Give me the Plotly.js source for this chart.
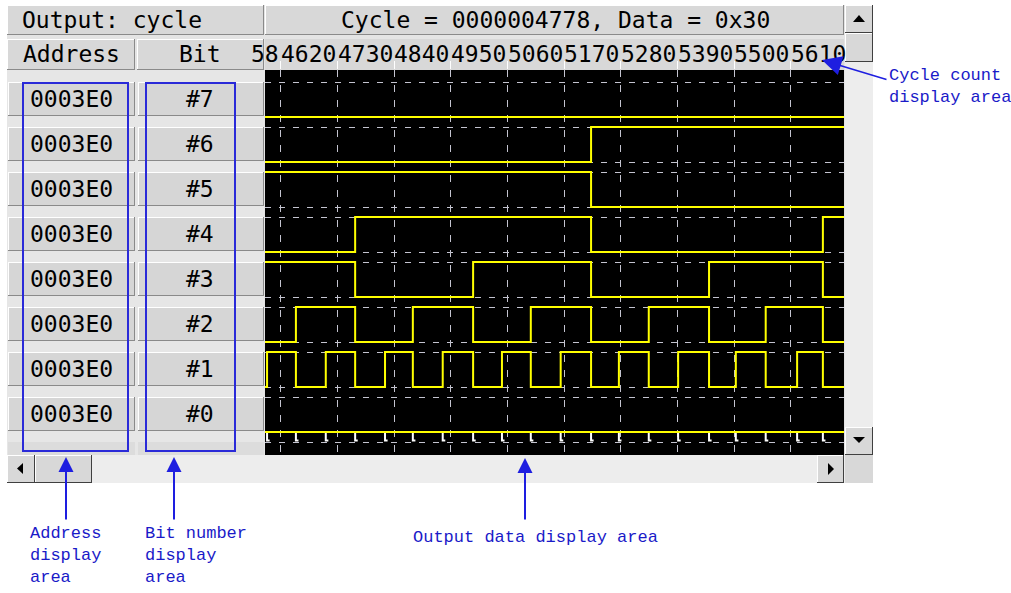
<!DOCTYPE html>
<html><head><meta charset="utf-8">
<script src="https://cdn.plot.ly/plotly-3.0.1.min.js"></script>
<style>html,body{margin:0;padding:0;background:#fff;}#chart{width:1011px;height:593px;}</style>
</head><body><div id="chart"></div>
<script>
// ---------------- data (cycle numbers) ----------------
const viewCycles = [4589, 5713];
const tickCycles = [4620, 4730, 4840, 4950, 5060, 5170, 5280, 5390, 5500, 5610];
const tickLabels = ['4620', '4730', '4840', '4950', '5060', '5170', '5280', '5390', '5500', '5610'];
const leadingLabel = '58';
const bitNames = ['#7', '#6', '#5', '#4', '#3', '#2', '#1', '#0'];
const bitNumbers = [7, 6, 5, 4, 3, 2, 1, 0];
const addresses = ['0003E0', '0003E0', '0003E0', '0003E0', '0003E0', '0003E0', '0003E0', '0003E0'];

const bit7Edges = [4589, 5713];
const bit7Levels = [0, 0];
const bit6Edges = [4589, 5222, 5713];
const bit6Levels = [0, 1, 1];
const bit5Edges = [4589, 5222, 5713];
const bit5Levels = [1, 0, 0];
const bit4Edges = [4589, 4764, 5222, 5672, 5713];
const bit4Levels = [0, 1, 0, 1, 1];
const bit3Edges = [4589, 4764, 4993, 5222, 5451, 5672, 5713];
const bit3Levels = [1, 0, 1, 0, 1, 0, 0];
const bit2Edges = [4589, 4649, 4764, 4876, 4993, 5105, 5222, 5334, 5451, 5561, 5672, 5713];
const bit2Levels = [0, 1, 0, 1, 0, 1, 0, 1, 0, 1, 0, 0];
const bit1Edges = [4589, 4593, 4649, 4707, 4764, 4822, 4876, 4934, 4993, 5049, 5105, 5163, 5222, 5276, 5334, 5391, 5451, 5503, 5561, 5622, 5672, 5713];
const bit1Levels = [0, 1, 0, 1, 0, 1, 0, 1, 0, 1, 0, 1, 0, 1, 0, 1, 0, 1, 0, 1, 0, 0];
const bit0Edges = [4589, 5713];
const bit0Levels = [0, 0];
const bit0Glitches = [4593, 4649, 4707, 4764, 4822, 4876, 4934, 4993, 5049, 5105, 5163, 5222, 5276, 5334, 5391, 5451, 5503, 5561, 5622, 5672];

const headerLeft = 'Output: cycle';
const headerRight = 'Cycle = 0000004778, Data = 0x30';
const colAddress = 'Address';
const colBit = 'Bit';

// ---------------- layout helpers ----------------
const W = 1011, H = 593;
const HIGH = 35 / 45;           // high level offset inside a row
const px = x => x / W, py = y => 1 - y / H;
const shapes = [];
function rect(x0, y0, x1, y1, fill, line, lw) {
  shapes.push({type: 'rect', xref: 'paper', yref: 'paper', x0: px(x0), x1: px(x1), y0: py(y1), y1: py(y0),
    fillcolor: fill || 'rgba(0,0,0,0)', line: {color: line || 'rgba(0,0,0,0)', width: lw || 0}, layer: 'below'});
}
function seg(x0, y0, x1, y1, color, w) {
  shapes.push({type: 'line', xref: 'paper', yref: 'paper', x0: px(x0), y0: py(y0), x1: px(x1), y1: py(y1),
    line: {color: color, width: w || 1}, layer: 'below'});
}
function bevel(x0, y0, x1, y1, fill, dark) {
  rect(x0, y0, x1, y1, fill);
  seg(x0, y0 + 0.5, x1, y0 + 0.5, '#ffffff', 1);
  seg(x0 + 0.5, y0, x0 + 0.5, y1, '#ffffff', 1);
  seg(x0, y1 - 0.5, x1, y1 - 0.5, dark || '#8a8a8a', 1);
  seg(x1 - 0.5, y0, x1 - 0.5, y1, dark || '#8a8a8a', 1);
}
function tri(pts, color) {
  const path = 'M' + pts.map(p => px(p[0]) + ',' + py(p[1])).join('L') + 'Z';
  shapes.push({type: 'path', xref: 'paper', yref: 'paper', path: path, fillcolor: color, line: {color: color, width: 0}, layer: 'below'});
}

// window chrome
rect(7, 5, 873, 483, '#e4e4e4');
bevel(7, 5, 264, 35, '#d8d8d8');
bevel(265, 5, 844, 35, '#d8d8d8');
bevel(7, 39, 135, 70, '#d8d8d8');
bevel(137, 39, 264, 70, '#d8d8d8');
rect(265, 39, 844, 70, '#d8d8d8');
rect(7, 70, 265, 455, '#e6e6e6');
rect(265, 70, 844, 455, '#000000');   // waveform display background
bitNames.forEach((b, i) => {
  bevel(8, 82 + 45 * i, 135, 116 + 45 * i, '#d6d6d6');
  bevel(138, 82 + 45 * i, 264, 116 + 45 * i, '#d6d6d6');
});
rect(8, 442, 135, 455, '#dcdcdc');
rect(138, 442, 264, 455, '#dcdcdc');
// vertical scrollbar
rect(845, 5, 873, 455, '#ededed');
bevel(845, 5, 873, 33, '#d8d8d8', '#404040');
tri([[853, 22], [865, 22], [859, 15]], '#000');
bevel(845, 33, 873, 62, '#d8d8d8', '#404040');
bevel(845, 427, 873, 455, '#d8d8d8', '#404040');
tri([[853, 437], [865, 437], [859, 443]], '#000');
// horizontal scrollbar
rect(7, 455, 845, 483, '#ededed');
bevel(7, 455, 35, 483, '#d8d8d8', '#404040');
tri([[23, 463], [23, 474], [17, 468.5]], '#000');
bevel(35, 455, 92, 483, '#d8d8d8', '#404040');
bevel(817, 455, 844, 483, '#d8d8d8', '#404040');
tri([[828, 463], [828, 475], [834, 469]], '#000');
rect(845, 455, 873, 483, '#d8d8d8');
// blue callout boxes
rect(23, 83, 128, 451, null, '#2a2ad8', 2);
rect(146, 83, 235, 451, null, '#2a2ad8', 2);

// ---------------- traces ----------------
const edges = {7: bit7Edges, 6: bit6Edges, 5: bit5Edges, 4: bit4Edges, 3: bit3Edges, 2: bit2Edges, 1: bit1Edges, 0: bit0Edges};
const levels = {7: bit7Levels, 6: bit6Levels, 5: bit5Levels, 4: bit4Levels, 3: bit3Levels, 2: bit2Levels, 1: bit1Levels, 0: bit0Levels};
const traces = [];
const gx = [], gy = [];
bit0Glitches.forEach(g => { gx.push(g, g, g + 5, null); gy.push(0, -0.19, -0.19, null); });
traces.push({x: gx, y: gy, mode: 'lines', line: {color: '#ffffff', width: 2}, hoverinfo: 'skip', showlegend: false});
bitNumbers.forEach(b => {
  traces.push({
    x: edges[b], y: levels[b].map(v => b + v * HIGH), mode: 'lines',
    line: {color: '#ffff00', width: 2, shape: 'hv'}, hoverinfo: 'skip', showlegend: false
  });
});

// y grid = every row's high and low level, plus the next (empty) row's high level
const yGrid = [-1 + HIGH];
bitNumbers.slice().reverse().forEach(b => { yGrid.push(b, b + HIGH); });

// ---------------- annotations ----------------
const uiFont = {family: 'DejaVu Sans Mono, monospace', size: 23, color: '#000'};
const blueFont = {family: 'Liberation Mono, Courier New, monospace', size: 17, color: '#1a1ac8'};
const ann = [];
function txt(t, x, y, anchor, font) {
  ann.push({text: t, xref: 'paper', yref: 'paper', x: px(x), y: py(y), xanchor: anchor || 'center', yanchor: 'middle',
    showarrow: false, font: font || uiFont, align: 'left', borderpad: 0});
}
txt(headerLeft, 21, 20, 'left');
txt(headerRight, 555, 20, 'center');
txt(colAddress, 71, 54, 'center');
txt(colBit, 200, 54, 'center');
bitNames.forEach((b, i) => {
  txt(addresses[i], 71, 99 + 45 * i, 'center');
  txt(b, 200, 99 + 45 * i, 'center');
});
tickCycles.forEach((c, i) => {
  ann.push({text: tickLabels[i], xref: 'x', yref: 'paper', x: c, y: py(54), xanchor: 'left', yanchor: 'middle',
    xshift: -1, showarrow: false, font: uiFont, borderpad: 0});
});
ann.push({text: leadingLabel, xref: 'x', yref: 'paper', x: tickCycles[0], y: py(54), xanchor: 'right', yanchor: 'middle',
  xshift: -1, showarrow: false, font: uiFont, borderpad: 0});

function arrow(x, y, ax, ay, w, s) {
  ann.push({text: '', xref: 'paper', yref: 'paper', x: px(x), y: py(y), ax: ax, ay: ay, showarrow: true,
    arrowhead: 2, arrowsize: s, arrowwidth: w, arrowcolor: '#1e1ee0'});
}
arrow(66, 457, 0, 64, 2, 1.5);
arrow(174, 457, 0, 64, 2, 1.5);
arrow(525, 458, 0, 63, 2, 1.5);
arrow(822, 60, 66, 20, 1.5, 2.6);
txt('Address<br>display<br>area', 29, 555, 'left', blueFont);
txt('Bit number<br>display<br>area', 144, 555, 'left', blueFont);
txt('Output data display area', 412, 537, 'left', blueFont);
txt('Cycle count<br>display area', 888, 87, 'left', blueFont);

const layout = {
  width: W, height: H, margin: {l: 0, r: 0, t: 0, b: 0, pad: 0},
  paper_bgcolor: '#ffffff', plot_bgcolor: '#000000', showlegend: false,
  xaxis: {domain: [px(265), px(844)], range: viewCycles, side: 'top', tickvals: tickCycles,
    showticklabels: false, ticks: 'outside', ticklen: 8, tickcolor: '#ffffff', tickwidth: 1,
    showgrid: true, gridcolor: '#c4c4d0', gridwidth: 1, griddash: '7px,8px', zeroline: false, showline: false, fixedrange: true},
  yaxis: {domain: [py(455), py(70)], range: [-23 / 45, 362 / 45], tickvals: yGrid, showticklabels: false, ticks: '',
    showgrid: true, gridcolor: '#c4c4d0', gridwidth: 1, griddash: '6px,8px', zeroline: false, showline: false, fixedrange: true},
  shapes: shapes, annotations: ann
};
Plotly.newPlot('chart', traces, layout, {displayModeBar: false, staticPlot: true});
</script></body></html>
